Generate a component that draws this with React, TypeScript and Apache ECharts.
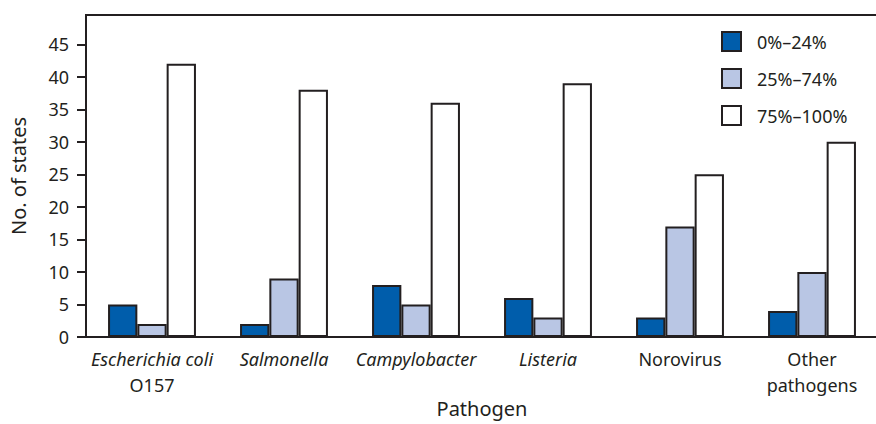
import React, { useEffect, useRef } from "react";
import * as echarts from "echarts";

const categories = ["Escherichia coli|O157", "Salmonella", "Campylobacter", "Listeria", "Norovirus", "Other|pathogens"];
const italicCats = ["Escherichia coli", "Salmonella", "Campylobacter", "Listeria"];
const seriesNames = ["0%–24%", "25%–74%", "75%–100%"];
const low = [5, 2, 8, 6, 3, 4];
const mid = [2, 9, 5, 3, 17, 10];
const high = [42, 38, 36, 39, 25, 30];
const yTicks = [0, 5, 10, 15, 20, 25, 30, 35, 40, 45];
const colors = ["#005dab", "#b9c6e4", "#ffffff"];

const FONT = "Noto Sans";
const INK = "#231f20";

export default function App() {
  const ref = useRef<HTMLDivElement>(null);
  useEffect(() => {
    const chart = echarts.init(ref.current!, null, { renderer: "svg" });
    const values = [low, mid, high];
    chart.setOption({
      animation: false,
      textStyle: { fontFamily: FONT, color: INK },
      grid: {
        left: 86,
        top: 15,
        width: 792,
        height: 322,
        show: true,
        borderColor: INK,
        borderWidth: 2,
        backgroundColor: "transparent",
        outerBoundsMode: "none",
        containLabel: false,
      },
      legend: {
        orient: "vertical",
        left: 721,
        top: 31,
        padding: 0,
        itemWidth: 19,
        itemHeight: 19,
        itemGap: 16,
        icon: "rect",
        textStyle: { fontFamily: FONT, fontSize: 18, color: INK, padding: [0, 0, 0, 11] },
        data: seriesNames,
      },
      xAxis: {
        type: "category",
        data: categories,
        name: "Pathogen",
        nameLocation: "middle",
        nameMoveOverlap: false,
        nameGap: 61,
        nameTextStyle: { fontFamily: FONT, fontSize: 20, lineHeight: 20, color: INK },
        axisLine: { lineStyle: { color: INK, width: 2 } },
        axisTick: { alignWithLabel: true, length: 9, lineStyle: { color: INK, width: 2 } },
        axisLabel: {
          interval: 0,
          margin: 9,
          color: INK,
          fontSize: 18,
          lineHeight: 26,
          formatter: (v: string) => {
            const parts = v.split("|");
            return parts
              .map((p) => (italicCats.includes(p) ? `{i|${p}}` : `{n|${p}}`))
              .join("\n");
          },
          rich: {
            i: { fontStyle: "italic", fontSize: 18, fontFamily: FONT, color: INK, lineHeight: 26 },
            n: { fontSize: 18, fontFamily: FONT, color: INK, lineHeight: 26 },
          },
        },
      },
      yAxis: {
        type: "value",
        min: 0,
        max: 49.5,
        interval: 5,
        name: "No. of states",
        nameLocation: "middle",
        nameMoveOverlap: false,
        nameGap: 58,
        nameTextStyle: { fontFamily: FONT, fontSize: 20, color: INK },
        axisLine: { show: true, lineStyle: { color: INK, width: 2 } },
        axisTick: { show: true, length: 9, customValues: yTicks, lineStyle: { color: INK, width: 2 } },
        axisLabel: { customValues: yTicks, margin: 17, fontSize: 18, color: INK },
        splitLine: { show: false },
      },
      series: seriesNames.map((name, i) => ({
        name,
        type: "bar",
        data: values[i],
        barWidth: 29.3,
        barGap: "0%",
        itemStyle: { color: colors[i], borderColor: INK, borderWidth: 2 },
      })),
    });
    return () => chart.dispose();
  }, []);
  return (
    <div
      ref={ref}
      style={{ position: "fixed", left: 0, top: 0, width: 876, height: 424, background: "#fff" }}
    />
  );
}
